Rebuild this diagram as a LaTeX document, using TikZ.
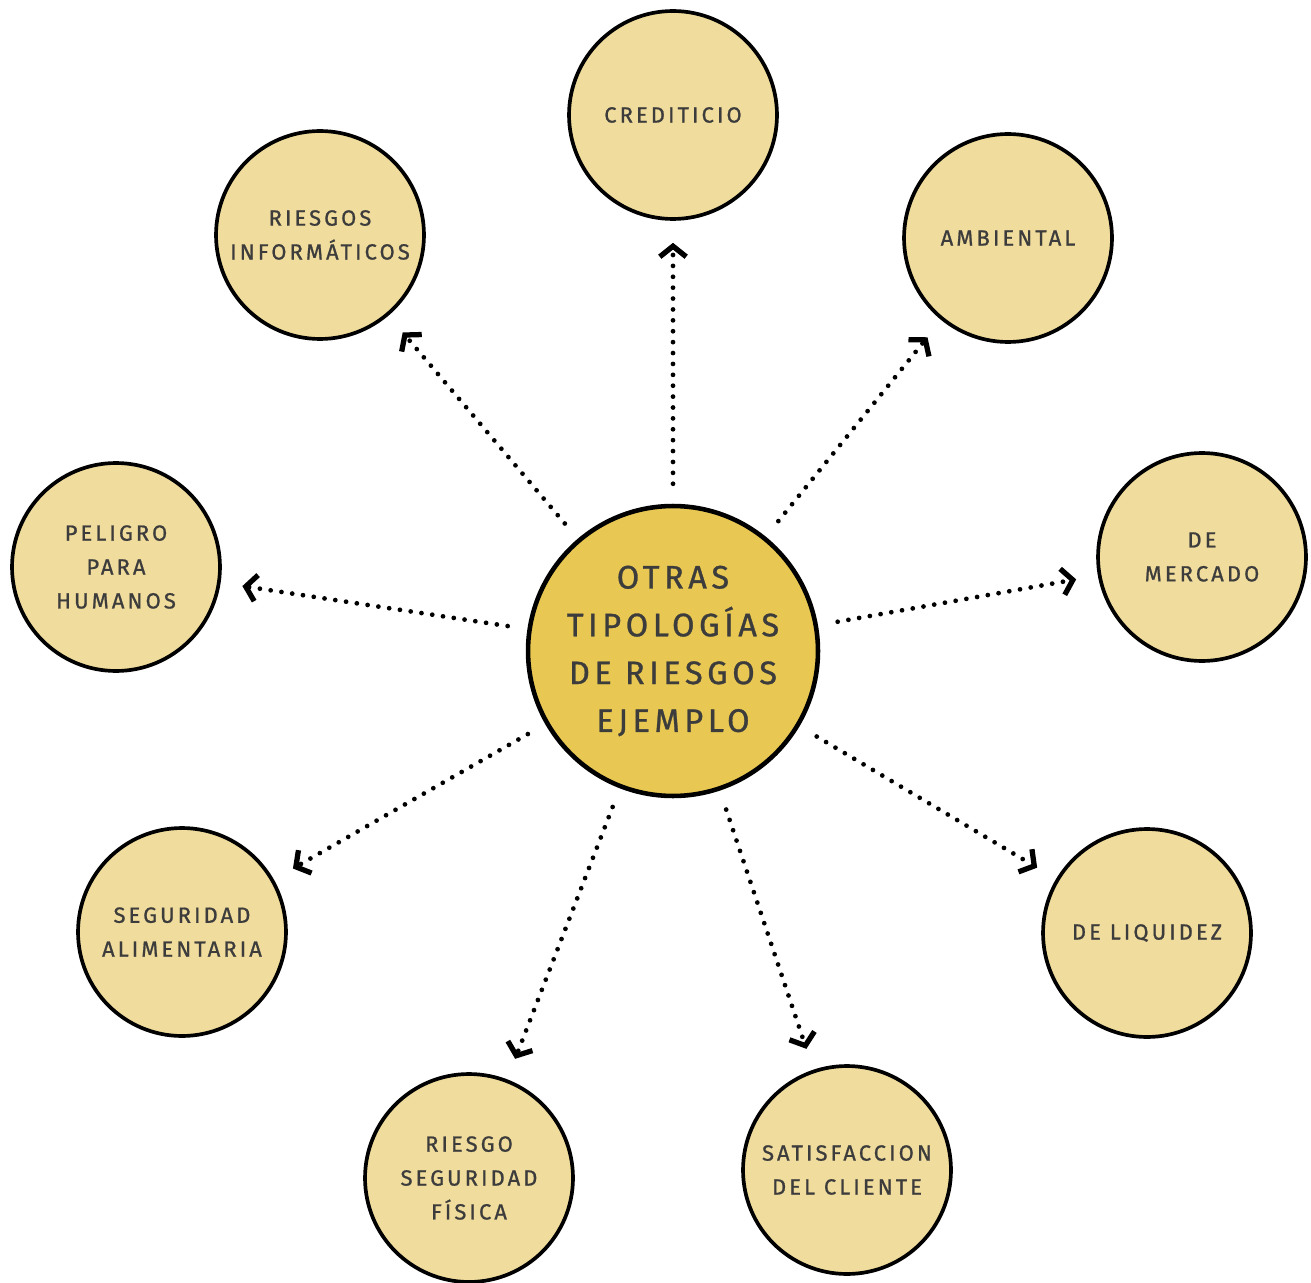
\documentclass[tikz,border=0pt]{standalone}
\usepackage{fontspec}
\usepackage{xcolor}
\newfontfamily\labelfont[LetterSpace=14, FakeBold=0.9]{Fira Sans}
\usetikzlibrary{arrows.meta}
\definecolor{paleyellow}{HTML}{F0DC9C}
\definecolor{darkyellow}{HTML}{E8C852}
\definecolor{textgray}{HTML}{3C3C3C}

\begin{document}
\begin{tikzpicture}[x=0.02cm, y=-0.02cm,
				main/.style={draw, circle, line width=2.6pt, fill=darkyellow, minimum size=5.8cm, inner sep=0pt, align=center, text=textgray, font=\labelfont\fontsize{18.5}{27.2}\selectfont},
				topic/.style={draw, circle, line width=2.1pt, fill=paleyellow, minimum size=4.16cm, inner sep=0pt, align=center, text=textgray, font=\labelfont\fontsize{12.5}{19.3}\selectfont},
				link/.style={line width=2.7pt, line cap=round, dash pattern=on 0pt off 6.2pt, -{Straight Barb[length=6pt,width=15pt,line width=3pt]}, shorten <=0.4cm, shorten >=0.44cm}
				]
				\useasboundingbox (0,0) rectangle (1311,1283);
				
				\node[main] (center) at (673,651) {OTRAS\\TIPOLOGÍAS\\DE RIESGOS\\EJEMPLO};
				
				\node[topic] (crediticio) at (673,115) {CREDITICIO};
				\node[topic] (ambiental) at (1008,238) {AMBIENTAL};
				\node[topic] (mercado) at (1202,557) {DE\\MERCADO};
				\node[topic] (liquidez) at (1147,933) {DE LIQUIDEZ};
				\node[topic] (cliente) at (847,1170) {SATISFACCION\\DEL CLIENTE};
				\node[topic] (fisica) at (469,1178) {RIESGO\\SEGURIDAD\\FÍSICA};
				\node[topic] (alimentaria) at (182,932) {SEGURIDAD\\ALIMENTARIA};
				\node[topic] (humanos) at (116,567) {PELIGRO\\PARA\\HUMANOS};
				\node[topic] (informaticos) at (320,235) {RIESGOS\\INFORMÁTICOS};
				
				\draw[link] (center) -- (crediticio);
				\draw[link] (center) -- (ambiental);
				\draw[link] (center) -- (mercado);
				\draw[link] (center) -- (liquidez);
				\draw[link] (center) -- (cliente);
				\draw[link] (center) -- (fisica);
				\draw[link] (center) -- (alimentaria);
				\draw[link] (center) -- (humanos);
				\draw[link] (center) -- (informaticos);
			\end{tikzpicture}
\end{document}
